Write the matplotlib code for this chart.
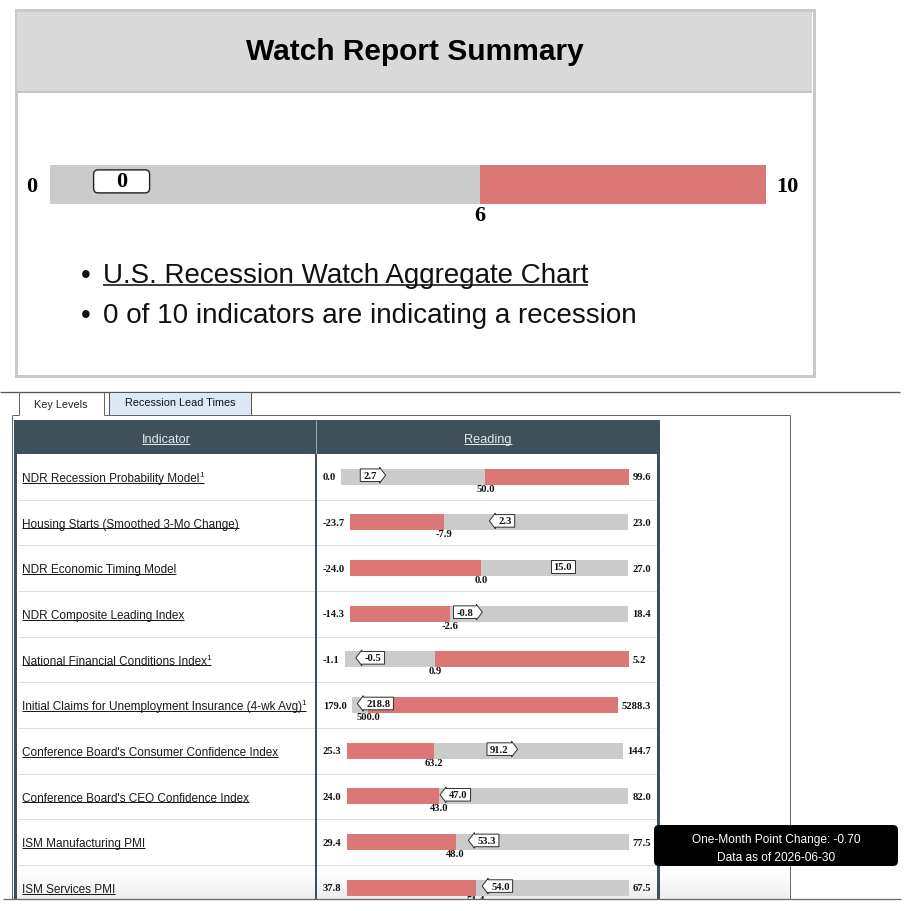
import matplotlib
matplotlib.use("Agg")
import matplotlib.pyplot as plt
from matplotlib.patches import Rectangle, FancyBboxPatch, BoxStyle
from matplotlib.path import Path
from matplotlib.transforms import Bbox, TransformedBbox
import numpy as np

W = H = 912
SANS = "Liberation Sans"
SERIF = "Liberation Serif"

# ---------------- data ----------------
summary_title = "Watch Report Summary"
summary_min = 0
summary_max = 10
summary_threshold = 6
summary_value = 0
bullet_link = "U.S. Recession Watch Aggregate Chart"
bullet_text = "0 of 10 indicators are indicating a recession"

tab_labels = ["Key Levels", "Recession Lead Times"]
column_headers = ["Indicator", "Reading"]

indicators = [
    "NDR Recession Probability Model",
    "Housing Starts (Smoothed 3-Mo Change)",
    "NDR Economic Timing Model",
    "NDR Composite Leading Index",
    "National Financial Conditions Index",
    "Initial Claims for Unemployment Insurance (4-wk Avg)",
    "Conference Board's Consumer Confidence Index",
    "Conference Board's CEO Confidence Index",
    "ISM Manufacturing PMI",
    "ISM Services PMI",
]
footnotes = [1, 0, 0, 0, 1, 1, 0, 0, 0, 0]
range_min = [0.0, -23.7, -24.0, -14.3, -1.1, 179.0, 25.3, 24.0, 29.4, 37.8]
range_max = [99.6, 23.0, 27.0, 18.4, 5.2, 5288.3, 144.7, 82.0, 77.5, 67.5]
thresholds = [50.0, -7.9, 0.0, -2.6, 0.9, 500.0, 63.2, 43.0, 48.0, 51.4]
readings = [2.7, 2.3, 15.0, -0.8, -0.5, 218.8, 91.2, 47.0, 53.3, 54.0]
changes = ["up", "down", "flat", "up", "down", "down", "up", "down", "down", "down"]
red_side = ["high", "low", "low", "low", "high", "high", "low", "low", "low", "low"]
tooltip_lines = ["One-Month Point Change: -0.70", "Data as of 2026-06-30"]

# ---------------- styles ----------------
GRAY = "#cbcbcb"
RED = "#db7774"
SLATE = "#3e515a"
PX = 0.72  # one pixel in points


class MarkerBox:
    """Box drawn around marker text, optionally with an arrow head."""

    def __init__(self, direction="flat", padx=3.0, pady=1.8, head=6.0, ext=1.5,
                 minw=0.0, rounding=0.0):
        self.direction = direction
        self.padx, self.pady, self.head, self.ext = padx, pady, head, ext
        self.minw, self.rounding = minw, rounding

    def __call__(self, x0, y0, width, height, mutation_size):
        w = max(width + 2 * self.padx, self.minw)
        cx = x0 + width / 2
        l, r = cx - w / 2, cx + w / 2
        b, t = y0 - self.pady, y0 + height + self.pady
        m = (b + t) / 2
        if self.rounding > 0:
            return BoxStyle.Round(pad=0, rounding_size=self.rounding)(l, b, r - l, t - b, 1.0)
        if self.direction == "up":
            verts = [(l, b), (r, b), (r, b - self.ext), (r + self.head, m),
                     (r, t + self.ext), (r, t), (l, t), (l, b)]
        elif self.direction == "down":
            verts = [(r, b), (l, b), (l, b - self.ext), (l - self.head, m),
                     (l, t + self.ext), (l, t), (r, t), (r, b)]
        else:
            verts = [(l, b), (r, b), (r, t), (l, t), (l, b)]
        return Path(verts, closed=True)


fig = plt.figure(figsize=(W / 100, H / 100), dpi=100)
fig.patch.set_facecolor("white")
bg = fig.add_axes([0, 0, 1, 1])
bg.set_xlim(0, W)
bg.set_ylim(H, 0)
bg.axis("off")
renderer = fig.canvas.get_renderer()


def text_width(t):
    return t.get_window_extent(renderer).width


def hline(y, x0, x1, color, lw_px=1.0, z=2):
    bg.plot([x0, x1], [y, y], color=color, lw=lw_px * PX, zorder=z, solid_capstyle="butt")


def vline(x, y0, y1, color, lw_px=1.0, z=2):
    bg.plot([x, x], [y0, y1], color=color, lw=lw_px * PX, zorder=z, solid_capstyle="butt")


# ---------------- summary panel ----------------
bg.add_patch(Rectangle((16, 11), 798, 366, fc="white", ec="#c9c9c9", lw=3 * PX, zorder=1))
bg.add_patch(Rectangle((17.5, 12.5), 795, 80.5, fc="#d9d9d9", ec="none", zorder=1.5))
hline(93, 17.5, 812.5, "#c4c4c4", 2)
bg.text(415, 52, summary_title, ha="center", va="center", family=SANS,
        weight="bold", fontsize=21.5, color="black", zorder=3)

# summary gauge
g_left, g_right, g_top, g_bot = 50, 766, 166, 205
gax = fig.add_axes([g_left / W, 1 - g_bot / H, (g_right - g_left) / W, (g_bot - g_top) / H])
gax.set_xlim(summary_min, summary_max)
gax.set_ylim(0, 1)
gax.axis("off")
gax.barh(0.5, summary_max - summary_min, left=summary_min, height=1, color=GRAY)
gax.barh(0.5, summary_max - summary_threshold, left=summary_threshold, height=1, color=RED)
gtr = gax.get_xaxis_transform()
span = summary_max - summary_min
gpos = min(max(summary_value, summary_min + 0.1 * span), summary_max - 0.1 * span)
gax.text(gpos, 0.58, f"{summary_value}", transform=gtr, ha="center", va="center",
         family=SERIF, weight="bold", fontsize=16, zorder=5,
         bbox=dict(boxstyle=MarkerBox(padx=4, pady=1.5, minw=56, rounding=4.5),
                   fc="white", ec="#222222", lw=1.4 * PX))
gax.text(summary_threshold, -0.28, f"{summary_threshold}", transform=gtr, ha="center",
         va="center", family=SERIF, weight="bold", fontsize=16)
bg.text(32, 187, f"{summary_min}", ha="center", va="center", family=SERIF,
        weight="bold", fontsize=16)
bg.text(787, 187, f"{summary_max}", ha="center", va="center", family=SERIF,
        weight="bold", fontsize=16)

# bullets
for i, (txt, link) in enumerate([(bullet_link, True), (bullet_text, False)]):
    base = 283 + 40 * i
    bg.text(86, base, "\u2022", ha="center", va="baseline", family=SANS, fontsize=20,
            color="#111111")
    t = bg.text(103, base, txt, ha="left", va="baseline", family=SANS, fontsize=20,
                color="#111111")
    if link:
        hline(base + 3, 103, 103 + text_width(t), "#111111", 1.6)

# ---------------- tabs & panel ----------------
hline(393, 0, 900, "#555555", 1.3)
vline(19.5, 393, 416, "#666666", 1)
vline(104, 393, 416, "#666666", 1)
bg.text(61, 405, tab_labels[0], ha="center", va="center", family=SANS, fontsize=7.8,
        color="#222222")
bg.add_patch(Rectangle((109, 393), 142, 23, fc="#dce8f6", ec="#555555", lw=1 * PX, zorder=2))
bg.text(180, 403, tab_labels[1], ha="center", va="center", family=SANS, fontsize=7.8,
        color="#111111", zorder=3)
hline(416, 12, 19.5, "#666666", 1)
hline(416, 104, 790, "#666666", 1)
vline(12, 416, 900, "#666666", 1)
vline(790, 416, 900, "#666666", 1)

# ---------------- table ----------------
tbl_left, tbl_right, hdr_top, hdr_bot, tbl_bot = 16, 660, 420.7, 455, 900
row_h = 45.65
col_div = 316

# soft shading toward the cut-off bottom of the table
grad = np.linspace(0, 1, 40)[:, None] ** 1.5
shade = np.ones((40, 2, 3)) * (1 - 0.07 * grad)[:, :, None]
bg.imshow(shade, extent=(12.5, 789.5, 900, 866), aspect="auto", zorder=1.2,
          interpolation="bilinear")
bg.set_xlim(0, W)
bg.set_ylim(H, 0)

bg.add_patch(Rectangle((tbl_left, hdr_top), tbl_right - tbl_left, hdr_bot - hdr_top,
                       fc=SLATE, ec="none", zorder=2))
vline(col_div, hdr_top, hdr_bot, "#9aa6ab", 1, z=3)
for label, cx in zip(column_headers, [166, 488]):
    t = bg.text(cx, 443, label, ha="center", va="baseline", family=SANS, fontsize=9.2,
                color="#e3e7e9", zorder=3)
    w = text_width(t)
    hline(444.8, cx - w / 2, cx + w / 2, "#e3e7e9", 1, z=3)

for k in range(1, len(indicators)):
    hline(hdr_bot + row_h * k, tbl_left + 2, tbl_right - 2, "#dedede", 1, z=2)

bg.add_patch(Rectangle((tbl_left - 1.5, hdr_top), 3, tbl_bot - hdr_top, fc=SLATE, ec="none", zorder=3))
bg.add_patch(Rectangle((col_div - 1, hdr_bot), 2.2, tbl_bot - hdr_bot, fc=SLATE, ec="none", zorder=3))
bg.add_patch(Rectangle((tbl_right - 2.5, hdr_top), 2.5, tbl_bot - hdr_top, fc=SLATE, ec="none", zorder=3))
hline(900.5, 3, 901, "#6a6a6a", 1.3, z=4)
bg.add_patch(Rectangle((0, 901.2), W, 12, fc="white", ec="none", zorder=3.5))

clip = TransformedBbox(Bbox([[0, 0], [W, 900]]), bg.transData)

num_kw = dict(family=SERIF, weight="bold", fontsize=7.6, color="#111111")
for i, name in enumerate(indicators):
    yc = hdr_bot + row_h * (i + 0.5)
    base = yc + 4.2
    t = bg.text(22, base, name, ha="left", va="baseline", family=SANS, fontsize=8.5,
                color="#1a1a1a", zorder=4)
    w = text_width(t)
    if footnotes[i]:
        s = bg.text(22 + w - 0.5, base - 5, "1", ha="left", va="baseline", family=SANS,
                    fontsize=6, color="#1a1a1a", zorder=4)
        w += text_width(s) - 0.5
    hline(base + 1.8, 22, 22 + w, "#1a1a1a", 1, z=4)

    mn, mx, thr, val = range_min[i], range_max[i], thresholds[i], readings[i]
    tl = bg.text(323, yc, f"{mn:.1f}", ha="left", va="center", zorder=4, **num_kw)
    wl = text_width(tl)
    probe = bg.text(0, 0, f"{mx:.1f}", **num_kw)
    wr = text_width(probe)
    probe.remove()
    bl = 323 + wl + 5
    br = min(651 - wr - 4, 629)
    bg.text(br + 4, yc, f"{mx:.1f}", ha="left", va="center", zorder=4, **num_kw)

    ax = fig.add_axes([bl / W, 1 - (yc + 8) / H, (br - bl) / W, 16 / H])
    ax.set_xlim(mn, mx)
    ax.set_ylim(0, 1)
    ax.axis("off")
    ax.barh(0.5, mx - mn, left=mn, height=1, color=GRAY)
    if red_side[i] == "high":
        ax.barh(0.5, mx - thr, left=thr, height=1, color=RED)
    else:
        ax.barh(0.5, thr - mn, left=mn, height=1, color=RED)
    tr = ax.get_xaxis_transform()
    tt = ax.text(thr, -0.22, f"{thr:.1f}", transform=tr, ha="center", va="center", **num_kw)
    tt.set_clip_box(clip)
    tt.set_clip_on(True)
    spn = mx - mn
    pos = min(max(val, mn + 0.1 * spn), mx - 0.1 * spn)
    ax.text(pos, 0.6, f"{val:.1f}", transform=tr, ha="center", va="center", zorder=6,
            bbox=dict(boxstyle=MarkerBox(direction=changes[i]), fc="white",
                      ec="#333333", lw=1 * PX), **num_kw)

# ---------------- tooltip ----------------
bg.add_patch(FancyBboxPatch((654, 826), 244, 41,
                            boxstyle=BoxStyle.Round(pad=0, rounding_size=5),
                            fc="black", ec="none", zorder=10))
bg.text(776, 840, tooltip_lines[0], ha="center", va="center", family=SANS, fontsize=8.6,
        color="white", zorder=11)
bg.text(776, 858, tooltip_lines[1], ha="center", va="center", family=SANS, fontsize=8.6,
        color="white", zorder=11)

fig.savefig("out.png", dpi=100, facecolor="white")
